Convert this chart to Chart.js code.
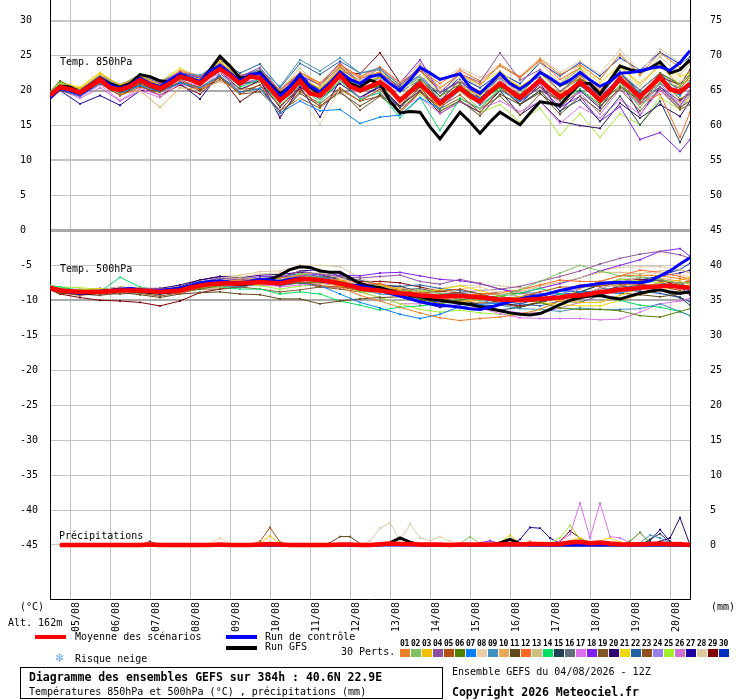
<!DOCTYPE html>
<html><head><meta charset="utf-8">
<script src="https://cdn.jsdelivr.net/npm/chart.js@4.4.1/dist/chart.umd.min.js"></script>
<style>
html,body{margin:0;padding:0;background:#fff;}
#wrap{position:relative;width:740px;height:700px;overflow:hidden;font-family:"DejaVu Sans Mono",monospace;font-size:10px;color:#000;}
#c{position:absolute;left:0;top:0;}
.t{position:absolute;white-space:nowrap;line-height:12px;}
.b{font-weight:bold;font-size:11.5px;}
.bar{position:absolute;}
.num{position:absolute;width:11px;text-align:center;font-weight:bold;font-size:8px;line-height:8px;letter-spacing:-0.4px;}
.sq{position:absolute;width:10px;height:8px;}
</style></head><body>
<div id="wrap">
<canvas id="c" width="740" height="700" style="width:740px;height:700px"></canvas>
<div class="t" style="left:60px;top:56px">Temp. 850hPa</div>
<div class="t" style="left:60px;top:263px">Temp. 500hPa</div>
<div class="t" style="left:59px;top:530px">Précipitations</div>
<div class="t" style="left:20px;top:601px">(°C)</div>
<div class="t" style="left:711px;top:601px">(mm)</div>
<div class="t" style="left:8px;top:617px">Alt. 162m</div>
<div class="bar" style="left:35px;top:635px;width:31px;height:4px;background:#ff0000"></div>
<div class="t" style="left:75px;top:631px">Moyenne des scénarios</div>
<div class="bar" style="left:226px;top:635px;width:31px;height:4px;background:#0000ff"></div>
<div class="t" style="left:265px;top:631px">Run de contrôle</div>
<div class="bar" style="left:226px;top:646px;width:31px;height:4px;background:#000000"></div>
<div class="t" style="left:265px;top:641px">Run GFS</div>
<div class="t" style="left:55px;top:652px;font-family:'DejaVu Sans';font-size:12px;color:#6aaae8">❄</div>
<div class="t" style="left:75px;top:653px">Risque neige</div>
<div class="t" style="left:341px;top:646px">30 Perts.</div>
<div id="perts"></div>
<div style="position:absolute;left:20px;top:667px;width:421px;height:30px;border:1px solid #000"></div>
<div class="t b" style="left:29px;top:671px">Diagramme des ensembles GEFS sur 384h : 40.6N 22.9E</div>
<div class="t" style="left:29px;top:686px">Températures 850hPa et 500hPa (°C) , précipitations (mm)</div>
<div class="t" style="left:452px;top:666px">Ensemble GEFS du 04/08/2026 - 12Z</div>
<div class="t b" style="left:452px;top:686px">Copyright 2026 Meteociel.fr</div>
</div>
<script>
// ---------- time axis ----------
const hours6 = [0,6,12,18,24,30,36,42,48,54,60,66,72,78,84,90,96,102,108,114,120,126,132,138,144,150,156,162,168,174,180,186,192,198,204,210,216,222,228,234,240,246,252,258,264,270,276,282,288,294,300,306,312,318,324,330,336,342,348,354,360,366,372,378,384];
const pertHours = [0,6,18,30,42,54,66,78,90,102,114,126,138,150,162,174,186,198,210,222,234,246,258,270,282,294,306,318,330,342,354,366,378,384];
const dayTickHours = [12,36,60,84,108,132,156,180,204,228,252,276,300,324,348,372];
const dayLabels = ['05/08','06/08','07/08','08/08','09/08','10/08','11/08','12/08','13/08','14/08','15/08','16/08','17/08','18/08','19/08','20/08'];
const leftTicks = [-45,-40,-35,-30,-25,-20,-15,-10,-5,0,5,10,15,20,25,30];
const rightTicks = [0,5,10,15,20,25,30,35,40,45,50,55,60,65,70,75];
const pertColors = ['#e8802a','#80c060','#f0c000','#9050a0','#b05010','#508000','#0080ff','#e8d0a8','#4090c0','#e8a858','#604818','#ff6820','#d0c080','#00e060','#204058','#607078','#e070f0','#8020f0','#805828','#300070','#f0d800','#2060a0','#905020','#9880e8','#a0f030','#d070d0','#2000a0','#e0c8a0','#800000','#0030c0'];

// ---------- 850 hPa ----------
const mean850 = [19.3,20.5,20.2,19.7,20.6,21.6,20.4,20.1,20.6,21.5,20.8,20.3,21.0,22.0,21.6,21.0,22.2,23.1,22.2,21.0,22.0,21.8,20.3,18.6,19.8,21.4,19.6,19.3,20.6,22.2,20.6,20.0,20.6,21.2,20.2,18.6,19.8,21.0,19.6,18.2,19.3,20.4,19.2,18.4,19.8,21.0,20.0,19.0,20.2,21.5,20.2,19.1,20.0,21.2,20.0,18.6,20.0,21.7,20.4,19.1,20.5,22.0,20.2,19.8,21.0];
const gfs850 = [19.4,20.6,20.5,19.8,20.8,21.8,21.0,20.5,21.0,22.3,22.0,21.4,21.2,22.0,21.5,21.2,23.0,24.9,23.5,21.8,22.0,22.6,21.0,19.5,20.5,22.0,20.5,19.5,20.8,22.5,21.0,20.5,21.5,21.0,18.5,16.8,17.0,16.9,14.8,13.1,15.0,16.9,15.5,13.9,15.5,16.9,16.0,15.1,16.8,18.4,18.2,17.9,19.5,21.0,21.0,19.5,21.5,23.5,23.0,22.7,23.2,24.1,22.5,23.0,24.4];
const ctrl850 = [19.0,20.3,20.0,19.5,20.4,21.8,20.8,20.3,20.8,21.8,21.0,20.6,21.5,22.4,21.8,21.3,22.8,23.6,22.5,21.4,22.3,22.5,20.9,19.2,20.6,22.3,20.6,19.8,21.0,22.7,21.6,21.0,22.0,22.3,21.0,20.0,21.5,23.3,22.5,21.6,22.0,22.4,20.5,19.6,21.0,22.5,21.0,20.2,21.2,22.6,21.8,20.8,21.5,22.6,21.5,20.6,21.3,22.5,22.6,22.8,23.2,23.4,22.9,24.0,25.7];
const pert850 = [
[19.5,20.8,19.8,22.0,20.3,22.0,20.6,22.4,21.2,23.7,21.5,22.6,19.6,22.6,20.8,23.4,21.8,22.7,20.2,22.8,20.4,22.4,20.9,23.6,21.8,24.5,22.3,23.7,21.6,25.2,22.3,25.4,23.3,24.0],
[19.7,21.1,20.0,22.1,20.5,21.7,20.3,21.7,21.4,23.6,21.8,22.8,19.1,21.6,18.8,21.4,20.5,22.2,20.1,21.8,18.4,19.9,17.4,20.2,19.5,22.7,20.9,23.2,19.1,21.2,17.6,21.2,20.6,22.5],
[19.6,21.0,20.3,22.4,20.8,22.1,20.8,22.3,21.6,24.1,21.8,22.4,18.8,21.9,20.3,23.0,21.2,21.8,18.8,20.7,17.7,20.7,19.2,22.2,20.5,22.5,19.6,22.0,19.9,23.3,21.1,23.5,20.8,21.6],
[19.3,20.7,20.1,22.2,20.4,22.0,21.1,22.6,21.9,23.9,22.0,23.3,19.8,22.2,20.8,24.0,21.0,22.4,20.6,23.5,19.7,22.4,21.2,25.4,21.5,23.0,19.9,22.2,19.1,21.9,18.3,20.5,17.8,20.0],
[19.1,20.6,19.4,21.1,19.3,20.5,19.7,21.6,20.2,21.9,19.5,20.8,17.8,20.2,17.7,20.2,18.5,20.2,16.8,19.8,17.7,19.4,16.9,20.2,18.7,20.5,18.6,21.7,19.6,22.5,19.4,21.5,18.8,19.5],
[19.8,21.4,19.9,21.6,19.8,21.7,20.7,22.0,20.8,23.4,21.5,22.0,18.3,21.4,19.8,22.5,19.8,20.7,18.9,21.6,19.2,20.9,18.4,20.5,19.5,22.5,20.6,21.7,18.1,20.7,18.6,22.5,20.8,22.2],
[19.3,20.2,19.2,21.0,19.7,20.7,19.8,21.1,20.4,22.1,19.8,20.3,16.8,18.5,17.1,17.3,15.3,16.2,16.5,19.0,17.4,20.1,18.9,21.2,18.5,20.5,18.6,21.4,19.4,22.7,19.6,22.0,19.3,21.3],
[19.4,20.5,19.5,21.3,20.1,21.8,20.8,22.2,20.7,22.6,20.0,20.3,16.6,18.9,15.2,20.2,18.5,20.2,19.1,22.2,20.0,21.9,19.4,21.5,20.0,23.0,21.1,23.0,19.8,22.5,20.6,24.0,21.3,22.0],
[19.5,20.9,20.2,21.9,20.7,22.3,21.2,22.5,22.2,23.7,22.0,23.0,20.6,24.4,22.8,24.7,22.5,23.2,20.1,22.0,18.7,20.4,17.9,20.0,18.5,21.5,19.6,22.2,19.1,21.2,17.6,21.0,19.3,21.0],
[19.5,20.5,19.4,21.1,19.5,20.0,17.6,20.4,20.2,21.3,20.0,21.3,18.6,21.9,20.3,23.0,20.5,21.2,18.1,20.2,18.7,21.4,19.9,22.0,19.5,21.5,19.6,22.4,20.1,22.5,19.3,21.2,18.3,19.0],
[19.0,20.0,19.3,21.0,19.3,21.0,19.9,21.2,20.0,21.9,20.2,20.3,16.6,19.6,17.8,19.7,17.8,19.4,17.6,20.5,17.0,18.6,16.4,19.5,18.0,19.7,16.6,19.2,17.1,20.5,18.6,20.5,17.6,18.5],
[19.4,20.7,20.0,21.8,20.6,21.9,20.9,22.8,22.0,23.8,22.2,22.8,20.1,22.6,21.1,23.7,22.0,23.4,21.1,23.0,21.0,22.9,21.4,23.5,22.0,24.3,21.6,23.2,20.1,22.2,18.1,19.5,13.3,16.9],
[19.6,21.0,20.3,22.0,20.9,22.1,21.3,22.9,22.2,24.1,21.8,23.0,20.1,23.2,20.5,23.2,21.5,23.2,21.1,23.8,20.4,22.2,20.6,23.8,22.0,24.0,21.1,23.7,21.6,25.2,22.1,24.8,22.3,23.8],
[19.5,21.0,19.5,21.6,19.6,21.3,20.6,22.0,20.7,23.3,20.5,21.6,17.8,20.9,18.3,21.4,18.8,19.7,16.1,19.0,14.3,18.9,17.4,20.5,19.5,21.5,18.6,20.2,18.1,21.7,19.6,22.0,18.8,19.5],
[19.3,20.3,19.8,21.4,20.3,21.5,20.0,22.2,21.5,23.4,21.0,21.3,18.8,21.9,20.1,22.7,20.0,20.7,17.6,20.5,18.2,20.9,18.4,20.5,18.0,20.0,17.1,18.7,15.6,19.2,15.1,18.5,12.6,15.5],
[19.2,20.6,19.7,21.9,20.3,21.5,20.4,21.8,21.3,23.1,21.4,22.3,18.9,21.4,19.9,22.4,20.5,22.0,19.8,21.5,19.7,21.2,19.4,21.5,20.0,22.7,19.9,21.7,20.1,22.5,20.1,22.5,21.0,21.5],
[19.3,20.0,19.1,20.8,18.6,20.3,19.3,21.4,20.7,22.6,21.0,21.5,19.1,21.6,19.3,21.7,19.0,19.7,17.6,19.0,16.7,18.4,17.4,18.5,17.0,18.5,15.3,17.7,16.1,18.7,16.6,20.0,18.3,20.0],
[19.3,20.8,19.9,22.1,20.9,22.0,20.6,22.6,21.8,24.6,22.0,23.0,20.1,22.4,19.8,23.0,21.5,23.2,21.1,24.4,19.7,21.4,18.9,21.0,18.5,20.5,17.6,19.2,15.6,17.7,13.0,14.0,11.3,13.0],
[19.2,20.2,19.2,21.4,19.5,20.7,19.3,21.3,20.5,22.1,19.5,19.8,17.1,18.9,17.5,20.0,17.2,19.2,17.1,19.8,17.4,18.9,17.4,19.2,16.5,19.5,17.6,20.2,17.8,20.2,17.1,20.2,17.3,18.0],
[19.3,20.3,19.3,21.3,19.6,21.3,19.8,21.7,21.0,22.7,20.2,21.3,17.6,20.6,18.8,21.0,19.0,20.7,17.8,20.0,16.7,18.4,16.9,20.0,16.5,18.5,15.6,15.0,14.6,18.2,16.1,18.0,16.3,18.5],
[19.7,21.1,20.5,22.6,20.7,22.3,21.3,23.2,21.8,24.4,22.0,22.6,20.1,22.6,21.1,23.7,21.0,22.7,20.6,22.8,19.7,22.4,20.9,22.8,20.5,22.5,20.6,23.4,21.1,23.7,20.6,23.8,22.0,22.5],
[19.0,20.5,20.0,22.1,20.5,22.3,21.3,22.5,21.8,24.3,22.5,23.8,20.4,23.9,22.3,24.2,22.5,23.0,20.8,23.0,19.7,21.4,18.9,22.0,20.5,22.0,19.1,20.7,18.6,22.2,20.1,22.5,19.8,20.5],
[19.3,20.3,19.4,21.5,19.7,20.9,19.8,21.2,20.0,21.6,19.8,20.8,16.5,19.9,18.1,20.4,18.5,19.2,17.1,20.0,17.7,20.4,18.9,20.5,18.0,20.0,18.6,21.7,18.6,21.2,18.1,21.5,20.3,22.0],
[19.4,20.5,19.9,21.4,20.1,21.8,20.1,22.2,21.5,23.1,21.3,21.5,19.1,22.2,19.6,22.7,21.0,21.7,18.6,20.5,18.7,21.4,19.9,21.8,19.5,22.5,20.9,22.4,19.1,22.7,19.1,21.0,17.8,19.5],
[19.8,21.3,20.0,22.2,20.6,22.3,20.6,22.6,21.5,23.5,21.8,22.8,20.1,22.4,19.8,23.0,20.0,20.7,17.6,19.5,17.2,18.4,16.9,18.0,15.5,17.5,13.6,16.7,13.3,16.7,15.1,19.0,17.3,19.0],
[19.3,20.2,18.9,20.4,18.5,20.0,19.0,21.0,20.2,22.6,20.7,21.8,18.9,21.9,19.3,21.9,20.5,22.0,18.9,20.5,18.2,20.9,19.4,21.5,19.0,21.0,18.1,19.7,16.6,20.2,18.1,20.0,17.3,19.5],
[18.7,20.0,18.1,19.3,17.9,20.0,20.0,21.0,18.8,22.5,20.0,21.5,16.1,20.5,16.2,21.5,19.0,20.5,17.5,21.8,18.5,21.5,19.5,22.0,18.0,21.0,17.0,20.0,17.5,21.5,16.5,20.5,18.5,20.0],
[19.5,20.8,20.2,21.8,20.7,21.9,21.1,22.5,21.3,23.9,22.0,22.3,19.8,22.4,19.8,23.7,21.8,23.4,21.1,24.0,21.4,23.2,21.9,23.8,22.0,24.7,22.6,24.2,22.4,25.9,22.6,26.0,24.0,24.5],
[19.2,20.3,19.4,21.1,19.8,20.7,19.3,20.8,19.5,22.1,18.4,20.3,17.1,20.4,19.3,22.7,22.4,25.4,21.1,23.0,19.7,21.4,18.9,21.0,18.5,20.5,18.6,21.7,20.1,22.7,19.6,22.0,20.8,23.0],
[19.1,20.4,19.7,21.8,20.6,21.8,20.9,22.4,21.2,23.7,21.5,22.6,19.6,22.2,20.8,23.4,21.0,22.7,20.4,22.2,19.2,21.9,20.4,22.5,21.0,24.0,22.1,24.0,22.1,24.7,22.9,25.5,23.8,24.8]
];

// ---------- 500 hPa ----------
const mean500 = [-8.2,-8.6,-8.7,-8.8,-8.8,-8.8,-8.7,-8.6,-8.6,-8.6,-8.7,-8.8,-8.7,-8.6,-8.2,-7.9,-7.7,-7.6,-7.6,-7.6,-7.5,-7.4,-7.5,-7.6,-7.3,-7.0,-7.0,-7.1,-7.3,-7.6,-7.9,-8.3,-8.5,-8.6,-8.8,-9.0,-9.1,-9.3,-9.4,-9.5,-9.4,-9.4,-9.5,-9.6,-9.7,-9.9,-9.9,-10.0,-9.9,-9.8,-9.7,-9.6,-9.4,-9.3,-9.1,-8.8,-8.7,-8.5,-8.4,-8.2,-8.1,-8.0,-7.9,-8.1,-8.2];
const gfs500 = [-8.3,-8.6,-8.8,-9.0,-9.0,-8.8,-8.6,-8.5,-8.6,-8.7,-8.9,-9.0,-8.8,-8.5,-8.0,-7.6,-7.4,-7.5,-7.6,-7.8,-7.6,-7.3,-7.0,-6.4,-5.6,-5.2,-5.3,-5.8,-6.0,-6.0,-6.8,-7.6,-8.0,-8.2,-8.6,-9.0,-9.3,-9.5,-9.8,-10.0,-10.2,-10.4,-10.6,-10.9,-11.2,-11.5,-11.8,-12.0,-12.1,-11.9,-11.3,-10.6,-10.0,-9.6,-9.4,-9.3,-9.6,-9.8,-9.4,-9.0,-8.7,-8.5,-8.8,-9.0,-8.8];
const ctrl500 = [-8.2,-8.5,-8.8,-9.0,-8.9,-8.7,-8.6,-8.4,-8.3,-8.5,-8.7,-8.6,-8.4,-8.2,-7.9,-7.5,-7.3,-7.2,-7.4,-7.5,-7.3,-7.0,-7.1,-7.3,-7.0,-6.8,-6.9,-7.2,-7.4,-7.6,-7.8,-7.9,-8.2,-8.6,-9.0,-9.4,-9.8,-10.2,-10.5,-10.7,-10.8,-11.0,-11.2,-11.3,-11.0,-10.6,-10.2,-9.8,-9.5,-9.3,-9.0,-8.6,-8.3,-8.0,-7.8,-7.6,-7.5,-7.4,-7.4,-7.5,-7.2,-6.5,-5.8,-4.8,-3.9];
const pert500 = [
[-8.1,-8.4,-8.8,-9.0,-8.7,-8.4,-8.8,-8.9,-8.1,-7.3,-7.1,-7.2,-6.8,-6.5,-6.9,-8.1,-9.3,-10.1,-11.0,-11.8,-12.5,-12.9,-12.6,-12.4,-12.0,-11.3,-10.1,-8.3,-7.3,-6.5,-6.4,-6.5,-6.9,-7.2],
[-8.2,-8.8,-8.6,-8.5,-8.6,-8.9,-8.6,-8.2,-7.3,-7.4,-7.9,-7.4,-7.1,-6.2,-6.8,-7.6,-8.8,-8.8,-8.7,-8.5,-9.0,-9.4,-10.1,-9.4,-8.5,-7.3,-6.1,-5.0,-5.8,-6.5,-6.7,-7.0,-7.6,-7.4],
[-8.0,-8.6,-8.5,-8.7,-8.8,-8.6,-8.5,-8.1,-7.7,-7.2,-7.6,-7.7,-7.1,-6.7,-7.1,-7.1,-8.0,-7.8,-8.5,-9.3,-10.0,-10.2,-9.9,-9.9,-9.5,-9.5,-10.1,-10.3,-10.3,-9.3,-8.2,-7.5,-7.1,-6.7],
[-8.2,-8.4,-8.8,-9.1,-8.6,-8.3,-8.3,-8.4,-7.5,-6.8,-7.1,-7.1,-6.8,-5.8,-6.3,-6.6,-6.8,-6.6,-6.4,-7.3,-7.7,-7.0,-7.6,-8.4,-8.0,-7.3,-6.6,-5.8,-4.8,-4.0,-3.4,-3.0,-3.5,-4.0],
[-8.4,-8.9,-8.8,-8.6,-8.3,-8.6,-9.0,-9.0,-8.2,-7.6,-7.3,-6.9,-7.4,-7.3,-7.9,-8.1,-8.6,-8.6,-8.5,-9.0,-8.7,-8.4,-9.1,-9.9,-9.5,-8.8,-8.1,-8.1,-8.0,-7.5,-7.7,-8.0,-8.6,-9.0],
[-8.1,-8.6,-9.0,-8.8,-8.3,-8.4,-8.8,-8.8,-8.4,-7.9,-7.6,-7.2,-7.8,-7.5,-7.4,-7.6,-8.1,-8.1,-9.0,-9.8,-10.5,-9.9,-9.6,-9.4,-10.0,-10.3,-11.1,-11.3,-11.3,-11.5,-12.2,-12.4,-11.6,-11.2],
[-8.3,-8.5,-8.5,-8.8,-8.8,-8.6,-8.6,-8.6,-7.6,-7.1,-7.4,-7.4,-7.9,-7.5,-7.9,-9.1,-10.3,-11.1,-12.0,-12.6,-12.0,-10.9,-10.6,-10.4,-10.0,-9.3,-8.6,-8.8,-8.8,-9.0,-8.2,-7.5,-8.1,-8.7],
[-8.2,-8.4,-8.8,-8.5,-8.1,-8.4,-8.8,-8.3,-7.4,-6.8,-6.6,-6.2,-6.1,-5.0,-5.6,-6.8,-7.8,-8.6,-9.5,-9.3,-9.0,-8.4,-8.1,-8.9,-9.5,-9.8,-10.1,-9.3,-8.3,-7.5,-6.7,-6.0,-6.3,-6.7],
[-8.2,-8.7,-8.7,-8.5,-8.4,-8.8,-9.1,-8.6,-7.7,-7.9,-8.1,-7.6,-7.6,-6.7,-6.6,-7.4,-8.5,-9.1,-9.3,-9.3,-9.0,-9.2,-9.9,-10.7,-11.2,-11.3,-11.6,-11.1,-11.3,-11.3,-11.2,-10.5,-11.6,-12.2],
[-8.0,-8.3,-8.8,-9.0,-8.6,-8.2,-8.6,-8.6,-8.2,-8.1,-7.8,-7.4,-7.3,-7.0,-7.6,-7.9,-8.3,-8.1,-8.2,-8.8,-9.5,-9.9,-10.4,-10.4,-10.0,-9.3,-8.6,-7.8,-7.8,-8.0,-7.4,-6.8,-7.3,-7.7],
[-8.4,-9.0,-9.1,-9.3,-8.9,-9.2,-9.6,-9.1,-8.9,-8.8,-9.1,-9.2,-9.8,-9.8,-10.5,-10.1,-9.8,-9.6,-9.5,-9.3,-9.2,-8.9,-9.6,-10.4,-11.0,-10.3,-9.6,-8.8,-8.8,-9.0,-9.2,-9.5,-9.1,-8.7],
[-8.2,-8.5,-8.9,-8.6,-8.6,-8.8,-8.8,-8.3,-7.4,-7.3,-7.6,-6.9,-6.8,-6.5,-6.9,-7.1,-7.5,-7.6,-8.5,-9.3,-10.0,-9.4,-9.1,-8.9,-8.5,-7.8,-7.1,-7.3,-7.3,-6.5,-5.7,-6.0,-6.6,-7.0],
[-8.1,-8.6,-8.6,-8.8,-8.3,-8.5,-8.9,-8.4,-7.9,-7.1,-6.8,-6.9,-7.3,-6.2,-6.1,-6.8,-7.8,-8.3,-9.0,-9.6,-9.5,-9.1,-9.1,-9.1,-8.8,-8.0,-7.4,-6.8,-6.0,-6.0,-6.2,-5.8,-5.6,-6.0],
[-7.9,-8.1,-8.6,-8.8,-6.7,-8.1,-8.6,-8.6,-8.2,-8.1,-8.4,-8.4,-9.1,-8.8,-9.1,-10.1,-10.7,-11.4,-11.0,-10.8,-10.5,-9.9,-9.6,-9.4,-9.0,-8.3,-9.1,-9.3,-9.3,-10.0,-10.7,-11.0,-11.6,-12.2],
[-8.2,-8.8,-8.8,-8.6,-8.6,-8.9,-8.9,-8.4,-7.9,-7.8,-7.3,-6.9,-7.4,-7.0,-7.4,-7.6,-7.8,-7.8,-8.0,-8.8,-9.5,-9.9,-10.6,-11.4,-11.0,-10.3,-9.6,-8.8,-7.8,-8.0,-8.2,-8.5,-9.6,-10.7],
[-8.2,-8.5,-8.6,-8.8,-8.8,-8.6,-8.6,-8.6,-7.4,-7.4,-7.6,-7.7,-7.6,-6.8,-6.6,-6.8,-7.1,-7.8,-8.5,-8.3,-9.0,-9.4,-10.1,-9.9,-9.5,-9.8,-10.1,-10.3,-9.3,-8.5,-7.7,-7.0,-7.6,-8.2],
[-8.2,-8.8,-9.1,-8.8,-8.4,-8.6,-9.0,-9.1,-8.2,-7.6,-7.3,-7.4,-8.1,-7.8,-7.6,-7.6,-7.8,-7.6,-8.5,-9.3,-10.0,-10.4,-11.1,-11.9,-12.5,-12.6,-12.6,-12.6,-12.8,-12.7,-11.7,-10.5,-10.1,-9.7],
[-8.1,-8.6,-9.0,-8.6,-8.6,-8.3,-8.8,-8.4,-7.4,-6.8,-7.1,-6.6,-6.6,-6.5,-6.3,-6.4,-6.5,-6.1,-6.0,-6.5,-7.0,-7.2,-7.6,-8.4,-9.0,-8.3,-7.6,-6.8,-5.8,-5.0,-4.2,-3.0,-2.6,-3.7],
[-8.4,-8.7,-8.8,-9.1,-9.1,-8.9,-8.8,-8.4,-7.9,-7.9,-8.1,-8.4,-8.8,-8.5,-8.1,-8.1,-8.3,-8.3,-8.5,-9.3,-10.0,-9.6,-9.3,-9.1,-9.0,-9.3,-9.6,-9.8,-8.8,-8.0,-7.2,-7.2,-7.6,-7.4],
[-8.2,-8.4,-8.8,-8.5,-8.1,-8.3,-8.3,-7.8,-7.1,-6.6,-6.8,-6.4,-6.3,-6.0,-6.3,-7.1,-8.1,-8.6,-9.5,-10.1,-10.0,-9.4,-9.1,-8.9,-9.5,-9.8,-10.1,-9.3,-8.3,-7.5,-6.7,-7.0,-8.1,-9.2],
[-8.0,-8.6,-8.5,-8.3,-8.4,-8.6,-9.0,-8.3,-7.4,-7.3,-7.6,-7.2,-7.1,-6.7,-7.1,-7.9,-8.8,-8.8,-9.0,-8.8,-8.5,-7.9,-8.6,-9.4,-10.0,-10.3,-10.6,-10.8,-10.8,-10.0,-9.2,-8.5,-8.1,-7.7],
[-8.3,-8.6,-8.6,-8.8,-8.8,-8.4,-8.4,-8.4,-7.9,-7.8,-7.6,-6.9,-6.6,-6.2,-6.6,-7.3,-8.3,-8.1,-8.0,-7.8,-8.3,-8.6,-9.1,-9.9,-10.5,-10.8,-10.1,-9.3,-8.3,-8.5,-8.7,-9.0,-9.6,-10.2],
[-8.2,-8.9,-9.3,-9.0,-8.6,-9.0,-9.4,-8.9,-8.4,-8.4,-8.1,-7.6,-7.6,-7.5,-8.1,-8.4,-8.8,-8.6,-8.7,-9.3,-10.0,-10.4,-10.4,-10.2,-9.8,-9.3,-8.6,-7.8,-7.6,-7.7,-7.9,-8.0,-7.6,-7.2],
[-8.1,-8.4,-8.8,-9.0,-8.6,-8.4,-8.5,-8.6,-8.2,-7.6,-7.3,-7.4,-7.9,-7.5,-7.3,-7.4,-7.8,-8.3,-9.0,-9.6,-9.5,-8.9,-8.6,-8.4,-8.8,-9.0,-9.1,-8.3,-7.3,-7.5,-7.7,-8.0,-8.6,-9.2],
[-7.9,-8.1,-8.2,-8.4,-8.4,-8.3,-8.8,-8.8,-7.9,-7.3,-7.6,-7.9,-8.4,-8.0,-7.6,-7.6,-8.8,-9.6,-10.5,-11.3,-11.7,-11.4,-11.8,-12.0,-12.0,-11.3,-10.1,-8.8,-7.8,-7.0,-7.2,-7.5,-8.1,-8.7],
[-8.2,-8.4,-8.4,-8.6,-8.6,-8.8,-8.8,-8.3,-7.7,-7.6,-7.9,-7.9,-7.9,-7.0,-6.8,-7.6,-8.8,-9.6,-10.5,-10.5,-10.3,-9.9,-10.6,-11.4,-11.8,-11.8,-11.1,-10.3,-9.3,-8.5,-8.7,-9.0,-9.6,-10.2],
[-8.4,-8.6,-8.6,-8.3,-8.3,-8.6,-8.6,-8.1,-7.1,-6.6,-6.8,-6.9,-6.8,-5.8,-5.6,-6.6,-7.8,-8.6,-9.5,-10.3,-11.0,-10.6,-10.4,-10.4,-10.0,-9.3,-8.6,-8.8,-8.8,-8.0,-7.2,-6.5,-6.1,-5.7],
[-8.2,-8.5,-8.8,-8.6,-8.2,-8.3,-8.3,-7.9,-7.1,-6.6,-6.4,-5.9,-5.8,-5.0,-5.0,-5.2,-6.8,-7.8,-8.5,-8.5,-8.3,-7.9,-7.8,-7.9,-8.2,-8.3,-7.6,-6.8,-5.8,-5.3,-5.2,-5.2,-5.6,-6.2],
[-8.5,-9.1,-9.6,-10.0,-10.1,-10.3,-10.8,-10.1,-8.9,-8.4,-8.1,-7.6,-7.6,-6.7,-6.6,-6.8,-7.3,-7.3,-7.5,-8.1,-8.7,-8.9,-9.6,-10.4,-10.8,-10.3,-9.6,-8.8,-7.8,-7.0,-7.0,-7.2,-7.6,-8.2],
[-8.2,-8.7,-8.7,-8.8,-8.4,-8.6,-9.0,-8.6,-7.6,-7.1,-7.4,-7.4,-7.9,-7.0,-6.8,-7.1,-8.1,-8.6,-9.3,-9.8,-10.3,-10.4,-10.8,-10.7,-10.5,-9.8,-9.1,-9.0,-8.8,-8.0,-7.2,-6.5,-5.6,-4.7]
];

// ---------- precipitation (mm, 6h steps, first step has no value) ----------
const meanPrecip = [null,0,0,0,0,0,0,0,0,0, 0.05,0,0,0,0,0,0,0.05,0,0, 0,0.05,0.15,0.05,0,0,0,0,0,0.05, 0.05,0,0,0.1,0.2,0.15,0.15,0.05,0.05,0.05, 0,0.05,0.05,0.05,0.05,0.05,0.15,0.05,0.15,0.15, 0.1,0.15,0.35,0.45,0.25,0.35,0.2,0.1,0.05,0.1, 0.15,0.2,0.1,0.15,0];
const gfsPrecip = [null,0,0,0,0,0,0,0,0,0, 0,0,0,0,0,0,0,0,0,0, 0,0,0,0,0,0,0,0,0,0, 0,0,0,0,0.3,1.0,0.4,0,0,0, 0,0,0,0,0,0.3,0.8,0.2,0,0, 0,0,0,0,0,0,0,0,0,0, 0,0,0,0,0];
const ctrlPrecip = [null,0,0,0,0,0,0,0,0,0, 0,0,0,0,0,0,0,0,0,0, 0,0,0,0,0,0,0,0,0,0, 0,0,0,0,0,0,0,0,0,0, 0,0,0,0,0,0,0,0,0,0, 0,0,0,0,0,0,0,0,0,0, 0,0,0,0,0];
const dryPrecip = [null,0,0,0,0,0,0,0,0,0, 0,0,0,0,0,0,0,0,0,0, 0,0,0,0,0,0,0,0,0,0, 0,0,0,0,0,0,0,0,0,0, 0,0,0,0,0,0,0,0,0,0, 0,0,0,0,0,0,0,0,0,0, 0,0,0,0,0];
const pertPrecip = [
dryPrecip,
[null,0,0,0,0,0,0,0,0,0, 0,0,0,0,0,0,0,0,0,0, 0,0,0,0,0,0,0,0,0,0, 0,0,0,0,0,0,0,0,0,0, 0,0.2,1.2,0.2,0,0,0,0,0,0, 0,0,0,0,0,0,0,0,0,0, 0,0,0,0,0],
[null,0,0,0,0,0,0,0,0,0, 0,0,0,0,0,0,0,0,0,0, 0,0.3,1.3,0.2,0,0,0,0,0,0, 0,0,0,0,0,0,0,0,0,0, 0,0,0,0,0,0.4,1.4,0.3,0,0, 0,0,0.6,1.0,0.3,0,0,0,0,0, 0,0,0,0,0],
dryPrecip,
[null,0,0,0,0,0,0,0,0,0, 0,0,0,0,0,0,0,0,0,0, 0,0.5,2.5,0.4,0,0,0,0,0,0, 0,0,0,0,0,0,0,0,0,0, 0,0,0,0,0,0,0,0,0,0, 0,0,0,0,0,0,0,0,0,0, 0,0,0,0,0],
[null,0,0,0,0,0,0,0,0,0, 0,0,0,0,0,0,0,0,0,0, 0,0,0,0,0,0,0,0,0,0, 0,0,0,0,0,0,0,0,0,0, 0,0,0,0,0,0,0,0,0,0, 0,0,0,0,0,0,0,0,0.5,1.8, 0.3,0,0,0,0],
dryPrecip,
[null,0,0,0,0,0,0,0,0,0, 0,0,0,0,0,0,0.3,1.0,0.2,0, 0,0,0,0,0,0,0,0,0,0, 0,0,0,0,0,0,0,0,0,0, 0,0,0,0,0,0,0,0,0,0, 0,0,0,0,0,0,0,0,0,0, 0,0,0,0,0],
[null,0,0,0,0,0,0,0,0,0, 0,0,0,0,0,0,0,0,0,0, 0,0,0,0,0,0,0,0,0,0, 0,0,0,0,0,0,0,0,0,0, 0,0,0,0,0,0,0,0,0,0, 0,0,0,0,0,0,0,0,0,0.3, 1.4,1.0,0.3,0,0],
dryPrecip,
[null,0,0,0,0,0,0,0,0,0, 0.5,0,0,0,0,0,0,0,0,0, 0,0,0,0,0,0,0,0,0.3,1.2, 1.2,0.2,0,0,0,0,0,0,0,0, 0,0,0,0,0,0,0,0,0,0, 0,0,0,0,0,0,0,0,0,0, 0,0,0,0,0],
[null,0,0,0,0,0,0,0,0,0, 0,0,0,0,0,0,0,0,0,0, 0,0,0,0,0,0,0,0,0,0, 0,0,0,0,0,0,0,0,0,0, 0,0,0,0,0,0,0,0,0.5,0, 0,0,0,0,0,0,0,0,0,0, 0,0,0,0,0],
dryPrecip,
dryPrecip,
[null,0,0,0,0,0,0,0,0,0, 0,0,0,0,0,0,0,0,0,0, 0,0,0,0,0,0,0,0,0,0, 0,0,0,0,0,0,0,0,0,0, 0,0,0,0,0,0,0,0,0,0, 0,0,0,0,0,0,0,0,0,0, 0.8,1.6,0.4,0,0],
dryPrecip,
[null,0,0,0,0,0,0,0,0,0, 0,0,0,0,0,0,0,0,0,0, 0,0,0,0,0,0,0,0,0,0, 0,0,0,0,0,0,0,0,0,0, 0,0,0,0,0,0,0,0,0,0, 0,0.5,1.5,6.0,1.0,6.0,1.2,1.0,0.3,0, 0,0,0,0,0],
[null,0,0,0,0,0,0,0,0,0, 0,0,0,0,0,0,0,0,0,0, 0,0,0,0,0,0,0,0,0,0, 0,0,0,0,0,0,0,0,0,0, 0,0,0,0.3,0.6,0.2,0,0,0,0, 0,0,0,0,0,0,0,0,0,0, 0,0,0,0,0],
dryPrecip,
[null,0,0,0,0,0,0,0,0,0, 0,0,0,0,0,0,0,0,0,0, 0,0,0,0,0,0,0,0,0,0, 0,0,0,0,0,0,0,0,0,0, 0,0,0,0,0,0,0,0,0,0, 0,0,0,0,0,0,0,0,0,0, 0,0.5,1.0,3.9,0],
[null,0,0,0,0,0,0,0,0,0, 0,0,0,0,0,0,0,0,0,0, 0,0,0,0,0,0,0,0,0,0, 0,0,0,0,0,0,0,0,0,0, 0,0,0,0,0,0,0.8,0.3,0,0, 0,0,0,0,0,0.6,1.0,0.4,0,0, 0,0,0,0,0],
dryPrecip,
dryPrecip,
dryPrecip,
[null,0,0,0,0,0,0,0,0,0, 0,0,0,0,0,0,0,0,0,0, 0,0,0,0,0,0,0,0,0,0, 0,0,0,0,0,0,0,0,0,0, 0,0,0,0,0,0,0,0,0,0, 0.3,1.0,2.8,0.8,0,0,0,0,0,0, 0,0,0,0,0],
dryPrecip,
[null,0,0,0,0,0,0,0,0,0, 0,0,0,0,0,0,0,0,0,0, 0,0,0,0,0,0,0,0,0,0, 0,0,0,0,0,0,0,0,0,0, 0,0,0,0,0,0,0,0.8,2.5,2.4, 1.0,0.2,0,0,0,0,0,0,0,0, 0.6,2.2,0.5,0,0],
[null,0,0,0,0,0,0,0,0,0, 0,0,0,0,0,0,0,0,0,0, 0,0,0,0,0,0,0,0,0,0, 0,0,0.6,2.4,3.2,0.6,3.0,1.0,0.6,1.2, 0.5,0,0,0,0,0,0,0,0,0, 0,0,0,0,0,0,0,0,0,0, 0,0,0,0,0],
[null,0,0,0,0,0,0,0,0,0, 0,0,0,0,0,0,0,0,0,0, 0,0,0,0,0,0,0,0,0,0, 0,0,0,0,0,0,0,0,0,0, 0,0,0,0,0,0,0,0,0,0, 0,0.5,2.0,1.0,0.2,0,0,0,0,0, 0,0,0,0,0],
dryPrecip
];

// ---------- legend swatches ----------
const pl = document.getElementById('perts');
pertColors.forEach((c,i)=>{
  const n = document.createElement('div'); n.className='num';
  n.style.left=(399+11*i)+'px'; n.style.top='640px'; n.textContent=String(i+1).padStart(2,'0');
  pl.appendChild(n);
  const s = document.createElement('div'); s.className='sq';
  s.style.left=(400+11*i)+'px'; s.style.top='649px'; s.style.background=c;
  pl.appendChild(s);
});

// ---------- chart ----------
const Y_MIN = -52.73, Y_MAX = 32.96, OFFSET = 45;
function pts(xs, ys){ return xs.map((x,i)=>({x:x, y:(ys[i]===undefined?null:ys[i])})); }
const datasets = [];
function member(xs, ys, col, axis){
  return {data:pts(xs,ys), yAxisID:axis, borderColor:col, backgroundColor:col, borderWidth:1,
    pointRadius:1.3, pointStyle:'rect', pointBorderWidth:0, pointBackgroundColor:col, order:10};
}
function main(xs, ys, col, w, axis, ord){
  return {data:pts(xs,ys), yAxisID:axis, borderColor:col, backgroundColor:col, borderWidth:w,
    pointRadius:0, order:ord};
}
pert850.forEach((a,m)=>datasets.push(member(pertHours,a,pertColors[m],'y')));
pert500.forEach((a,m)=>datasets.push(member(pertHours,a,pertColors[m],'y')));
pertPrecip.forEach((a,m)=>datasets.push(member(hours6,a,pertColors[m],'y2')));
datasets.push(main(hours6,gfs850,'#000000',3,'y',3));
datasets.push(main(hours6,gfs500,'#000000',3,'y',3));
datasets.push(main(hours6,gfsPrecip,'#000000',3,'y2',3));
datasets.push(main(hours6,ctrl850,'#0000ff',3,'y',2));
datasets.push(main(hours6,ctrl500,'#0000ff',3,'y',2));
datasets.push(main(hours6,ctrlPrecip,'#0000ff',3,'y2',2));
datasets.push(main(hours6,mean850,'#ff0000',4.5,'y',1));
datasets.push(main(hours6,mean500,'#ff0000',4.5,'y',1));
datasets.push(main(hours6,meanPrecip,'#ff0000',4.5,'y2',1));

const tickFont = {family:'DejaVu Sans Mono', size:10};
new Chart(document.getElementById('c'), {
  type:'line',
  data:{datasets:datasets},
  options:{
    responsive:false, animation:false, devicePixelRatio:1,
    layout:{autoPadding:false, padding:{left:20,right:0,top:0,bottom:0}},
    plugins:{legend:{display:false}, tooltip:{enabled:false}},
    elements:{line:{tension:0}},
    scales:{
      x:{type:'linear', position:'bottom', min:0, max:384,
        afterBuildTicks:s=>{ s.ticks = dayTickHours.map(v=>({value:v})); },
        afterFit:s=>{ s.height = 101; s.paddingLeft = 0; s.paddingRight = 0; },
        ticks:{autoSkip:false, minRotation:90, maxRotation:90, padding:3, labelOffset:6,
          font:tickFont, color:'#000', callback:(v,i)=>dayLabels[i]},
        grid:{color:'#c0c0c0', lineWidth:1, drawTicks:false},
        border:{display:true, color:'#000', width:1}
      },
      y:{type:'linear', position:'left', min:Y_MIN, max:Y_MAX,
        afterBuildTicks:s=>{ s.ticks = leftTicks.map(v=>({value:v})); },
        afterFit:s=>{ s.width = 30; s.paddingTop = 0; s.paddingBottom = 0; },
        ticks:{crossAlign:'far', font:tickFont, color:'#000', padding:4},
        grid:{drawTicks:false,
          color:c=>{const v=c.tick?c.tick.value:null; return v===0?'#a8a8a8':(v===20||v===-10)?'#aaaaaa':'#c4c4c4';},
          lineWidth:c=>{const v=c.tick?c.tick.value:null; return v===0?3:(v===30||v===20||v===10||v===-10)?2:1;}},
        border:{display:true, color:'#000', width:1}
      },
      y2:{type:'linear', position:'right', min:Y_MIN+OFFSET, max:Y_MAX+OFFSET,
        afterBuildTicks:s=>{ s.ticks = rightTicks.map(v=>({value:v})); },
        afterFit:s=>{ s.width = 50; s.paddingTop = 0; s.paddingBottom = 0; },
        ticks:{font:tickFont, color:'#000', padding:20},
        grid:{drawOnChartArea:false, drawTicks:false},
        border:{display:true, color:'#000', width:1}
      }
    }
  }
});
</script>
</body></html>
